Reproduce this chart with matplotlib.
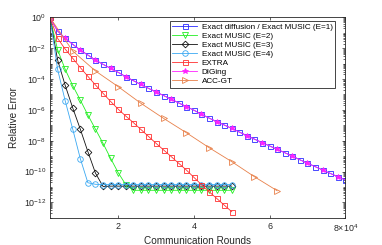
import matplotlib
matplotlib.use('Agg')
import matplotlib.pyplot as plt
import numpy as np
from matplotlib.ticker import FixedLocator, NullFormatter

# communication rounds (x grid, every 2000 rounds)
rounds = np.arange(2000, 80001, 2000)

# log10 of relative error
exact_diffusion = [0, -0.88, -1.35, -1.74, -2.11, -2.44, -2.76, -3.04, -3.30, -3.56,
                   -3.84, -4.10, -4.35, -4.60, -4.83, -5.07, -5.30, -5.55, -5.78, -6.02,
                   -6.28, -6.53, -6.76, -6.98, -7.20, -7.44, -7.67, -7.90, -8.12, -8.34,
                   -8.56, -8.78, -9.00, -9.24, -9.46, -9.68, -9.90, -10.12, -10.34, -10.55]
diging = [0, -0.88, -1.35, -1.74, -2.11, -2.44, -2.76, -3.04, -3.30, -3.56,
          -3.84, -4.10, -4.35, -4.60, -4.83, -5.07, -5.30, -5.55, -5.78, -6.02,
          -6.28, -6.53, -6.76, -6.98, -7.20, -7.44, -7.67, -7.90, -8.12, -8.34,
          -8.56, -8.78, -9.00, -9.24, -9.46, -9.68, -9.90, -10.12, -10.34, -10.55]
music_e2 = [0, -2.09, -3.36, -4.42, -5.36, -6.33, -7.25, -8.17, -9.14, -10.07,
            -10.85, -11.22, -11.22, -11.22, -11.22, -11.22, -11.22, -11.22, -11.22, -11.22,
            -11.22, -11.22, -11.22, -11.22, -11.22]
music_e3 = [0, -2.75, -4.40, -5.87, -7.25, -8.71, -10.10, -10.97, -10.95, -10.95,
            -10.95, -10.95, -10.95, -10.95, -10.95, -10.95, -10.95, -10.95, -10.95, -10.95,
            -10.95, -10.95, -10.95, -10.95, -10.95]
music_e4 = [0, -3.36, -5.40, -7.25, -9.16, -10.73, -10.83, -10.85, -10.85, -10.85,
            -10.85, -10.85, -10.85, -10.85, -10.85, -10.85, -10.85, -10.85, -10.85, -10.85,
            -10.85, -10.85, -10.85, -10.85, -10.85]
extra = [0, -1.35, -2.05, -2.65, -3.25, -3.82, -4.38, -4.92, -5.45, -5.95,
         -6.40, -6.82, -7.27, -7.72, -8.17, -8.60, -9.03, -9.47, -9.90, -10.38,
         -10.85, -11.31, -11.74, -12.18, -12.61]
acc_gt_rounds = [2000, 8000, 14000, 20000, 26000, 32000, 38000, 44000, 50000, 56000, 62000]
acc_gt = [0, -2.18, -3.47, -4.49, -5.57, -6.55, -7.48, -8.45, -9.36, -10.34, -11.25]

labels = ['Exact diffusion / Exact MUSIC (E=1)', 'Exact MUSIC (E=2)', 'Exact MUSIC (E=3)',
          'Exact MUSIC (E=4)', 'EXTRA', 'DIGing', 'ACC-GT']
xtick_vals = [20000, 40000, 60000, 80000]
xtick_labels = ['2', '4', '6', r'8$\times$10$^{4}$']
ytick_exps = [0, -2, -4, -6, -8, -10, -12]

plt.rcParams['font.family'] = ['Liberation Sans', 'DejaVu Sans']
plt.rcParams['mathtext.fontset'] = 'custom'
plt.rcParams['mathtext.rm'] = 'Liberation Sans'
plt.rcParams['mathtext.it'] = 'Liberation Sans:italic'
plt.rcParams['mathtext.bf'] = 'Liberation Sans:bold'

fig = plt.figure(figsize=(3.82, 2.45), dpi=100)
ax = fig.add_axes([0.1309, 0.1114, 0.7731, 0.8172])

lw = 0.6
ms = 3.6
mew = 0.6
c_blue = '#2b2bff'
c_green = '#22ee22'
c_black = '#111111'
c_cyan = '#3aa8f2'
c_red = '#ff3030'
c_mag = '#ff22ff'
c_org = '#e8804a'

def p(x, v, color, marker, label, ms_=ms, fill='none', **kw):
    ax.plot(x, 10.0 ** np.array(v), color=color, lw=lw, marker=marker, ms=ms_,
            mew=mew, mfc=fill, mec=color, label=label, **kw)

p(rounds, exact_diffusion, c_blue, 's', labels[0])
p(rounds[:25], music_e2, c_green, 'v', labels[1], ms_=4.0)
p(rounds[:25], music_e3, c_black, 'D', labels[2], ms_=3.4)
p(rounds[:25], music_e4, c_cyan, 'o', labels[3], ms_=4.0)
p(rounds[:25], extra, c_red, 's', labels[4])
p(rounds, diging, c_mag, '*', labels[5], ms_=4.4, fill=c_mag, markevery=2)
p(acc_gt_rounds, acc_gt, c_org, '>', labels[6], ms_=4.0)

ax.set_yscale('log')
ax.set_xlim(2000, 80000)
ax.set_ylim(1e-13, 1)
ax.yaxis.set_major_locator(FixedLocator([10.0 ** e for e in ytick_exps]))
ax.set_yticklabels([r'10$^{%d}$' % e for e in ytick_exps])
minors = [m * 10.0 ** e for e in range(-13, 0) for m in range(1, 10) if not (m == 1 and e % 2 == 0)]
ax.yaxis.set_minor_locator(FixedLocator(minors))
ax.yaxis.set_minor_formatter(NullFormatter())
ax.set_xticks(xtick_vals)
ax.set_xticklabels(xtick_labels)

ax.tick_params(which='both', direction='in', top=True, right=True, labelsize=6.4,
               colors='#262626', width=0.5, pad=3)
ax.tick_params(which='major', length=2.5)
ax.tick_params(which='minor', length=1.4)
for s in ax.spines.values():
    s.set_linewidth(0.6)
    s.set_color('#262626')

ax.set_xlabel('Communication Rounds', fontsize=7.2, color='#262626', labelpad=2)
ax.set_ylabel('Relative Error', fontsize=7.2, color='#262626', labelpad=3)

leg = ax.legend(loc='upper right', bbox_to_anchor=(0.965, 0.984), fontsize=5.85,
                frameon=True, fancybox=False, edgecolor='#262626', framealpha=1,
                borderaxespad=0, borderpad=0.3, labelspacing=0.17,
                handlelength=3.1, handletextpad=0.5)
leg.get_frame().set_linewidth(0.6)

fig.savefig('out.png', dpi=100)
